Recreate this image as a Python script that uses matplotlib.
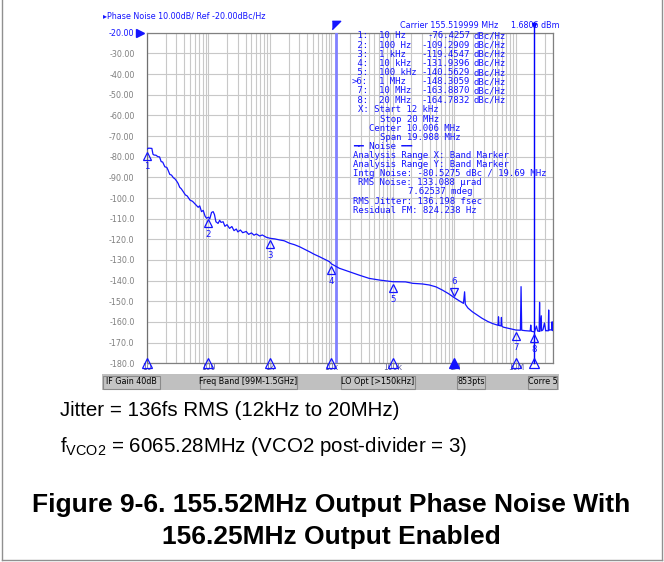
import matplotlib
matplotlib.use("Agg")
import matplotlib.pyplot as plt
from matplotlib.patches import Rectangle
from matplotlib.lines import Line2D
from matplotlib.transforms import offset_copy

# ---------------- data ----------------
freq_hz = [10, 10.5, 11, 12, 12.5, 13, 14, 15, 16, 17, 18, 19.5, 21, 22, 23.5, 25, 27, 28, 30, 32,
           34, 36, 39, 42, 45, 50, 55, 60, 63, 68, 72, 77, 82, 88, 93, 100, 105, 112, 119, 125,
           132, 143, 152, 160, 173, 185, 200, 220, 240, 260, 283, 300, 330, 360, 410, 450, 500, 550,
           600, 680, 750, 870, 1000, 1200, 1430, 1700, 2080, 2500, 3030, 3600, 4380, 5200, 6360,
           7700, 9250, 10000, 13400, 19500, 28000, 41000, 60000, 98000, 160000, 210000, 300000,
           390000, 500000, 630000, 800000, 1000000, 1200000, 1400000, 1460000, 1500000, 1650000,
           1940000, 2300000, 2800000, 3500000, 4200000, 5100000, 5200000, 5300000, 5700000, 5800000,
           5900000, 6200000, 7600000, 8500000, 10000000, 11800000, 12100000, 12400000, 14000000,
           15500000, 17000000, 17400000, 17800000, 20000000, 21500000, 22500000, 23800000, 24200000,
           24600000, 25800000, 26100000, 27500000, 29000000, 30500000, 31500000, 33500000, 34000000,
           34500000, 36000000, 38300000, 38700000, 39200000, 40000000]
noise_dbc = [-76.4, -75.9, -75.9, -76.0, -78.8, -79.2, -79.3, -80.0, -80.1, -82.4, -82.6, -84.9, -85.2,
             -86.5, -88.6, -88.9, -90.3, -90.5, -91.6, -92.9, -94.8, -95.5, -97.0, -98.5, -99.0,
             -101.0, -101.6, -102.8, -103.4, -104.5, -103.8, -106.6, -106.0, -108.8, -109.8, -109.3,
             -110.1, -107.0, -106.6, -108.0, -111.5, -112.3, -110.8, -111.8, -111.5, -113.7, -112.9,
             -114.7, -113.8, -115.8, -115.0, -116.4, -115.5, -116.8, -116.2, -117.6, -116.9, -118.0,
             -117.4, -118.4, -117.9, -119.0, -119.5, -119.8, -120.3, -120.7, -121.9, -122.6, -123.6,
             -124.7, -126.0, -127.2, -128.4, -129.6, -130.8, -131.9, -134.0, -135.7, -137.3, -138.9,
             -139.7, -140.5, -140.6, -141.3, -141.6, -142.1, -143.0, -144.5, -146.3, -148.3, -149.8,
             -151.0, -145.4, -151.4, -153.2, -155.0, -156.5, -158.2, -159.8, -160.8, -161.6, -157.5,
             -161.7, -161.9, -157.8, -162.0, -162.5, -163.1, -163.4, -163.9, -164.0, -142.9, -164.0,
             -164.2, -164.3, -164.4, -161.5, -164.5, -164.8, -162.0, -164.4, -164.5, -150.5, -164.5,
             -157.0, -164.3, -163.8, -160.5, -164.3, -164.2, -164.3, -154.2, -164.0, -163.8, -163.9,
             -159.9, -164.0, -164.2]

marker_freqs = [10, 100, 1e3, 1e4, 1e5, 1e6, 1e7, 2e7]
marker_vals = [-76.4257, -109.2909, -119.4547, -131.9396, -140.5629, -148.3059, -163.8870, -164.7832]
marker_freq_txt = ["10 Hz", "100 Hz", "1 kHz", "10 kHz", "100 kHz", "1 MHz", "10 MHz", "20 MHz"]
marker_val_txt = ["-76.4257", "-109.2909", "-119.4547", "-131.9396", "-140.5629", "-148.3059",
                  "-163.8870", "-164.7832"]

band_start_hz = 12e3
band_stop_hz = 20e6

y_ticks = [-20, -30, -40, -50, -60, -70, -80, -90, -100, -110, -120, -130, -140, -150, -160, -170, -180]
y_tick_labels = ["-20.00", "-30.00", "-40.00", "-50.00", "-60.00", "-70.00", "-80.00", "-90.00",
                 "-100.0", "-110.0", "-120.0", "-130.0", "-140.0", "-150.0", "-160.0", "-170.0", "-180.0"]
x_ticks = [10, 100, 1e3, 1e4, 1e5, 1e6, 1e7]
x_tick_labels = ["10", "100", "1k", "10k", "100k", "1M", "10M"]

info_lines = [
    ("X: Start 12 kHz", 358),
    ("Stop 20 MHz", 380),
    ("Center 10.006 MHz", 369),
    ("Span 19.988 MHz", 380),
    ("\u2501\u2501 Noise \u2501\u2501", 353),
    ("Analysis Range X: Band Marker", 353),
    ("Analysis Range Y: Band Marker", 353),
    ("Intg Noise: -80.5275 dBc / 19.69 MHz", 353),
    ("RMS Noise: 133.088 \u00b5rad", 358),
    ("7.62537 mdeg", 408),
    ("RMS Jitter: 136.198 fsec", 353),
    ("Residual FM: 824.238 Hz", 353),
]

status_items = [("IF Gain 40dB", 103, 160), ("Freq Band [99M-1.5GHz]", 200, 297),
                ("LO Opt [>150kHz]", 341, 415), ("853pts", 457, 485), ("Corre 5", 528, 557)]

# ---------------- figure ----------------
W, H = 664, 562
fig = plt.figure(figsize=(W / 100, H / 100), dpi=100)
fig.patch.set_facecolor("white")


def fx(x):
    return x / W


def fy(y):
    return 1 - y / H


BLUE = "#1414ff"
GRID = "#c8c8c8"
GREY = "#808080"

ax = fig.add_axes([fx(147), fy(363.3), (553 - 147) / W, (363.3 - 32.7) / H])
ax.set_xscale("log")
ax.set_xlim(10, 40e6)
ax.set_ylim(-180, -20)
ax.set_facecolor("white")
for s in ax.spines.values():
    s.set_color(GREY)
    s.set_linewidth(0.9)
ax.spines["left"].set_color("#707070")

ax.set_yticks(y_ticks)
ax.set_yticklabels(y_tick_labels, fontsize=5.8, color=GREY)
ax.get_yticklabels()[0].set_color(BLUE)
ax.set_xticks(x_ticks)
ax.set_xticklabels(x_tick_labels, fontsize=5.5, color="#5a5a9a")
ax.xaxis.set_minor_formatter(matplotlib.ticker.NullFormatter())
ax.tick_params(axis="y", length=0, pad=9)
ax.tick_params(axis="x", which="both", length=0, pad=0)
ax.grid(True, which="both", axis="x", color=GRID, lw=0.8)
ax.grid(True, which="major", axis="y", color=GRID, lw=0.8)
ax.set_axisbelow(True)

# band marker lines
ax.plot([band_start_hz, band_start_hz], [-180, -20], color="#8080ff", lw=2.0, zorder=3)
ax.plot([band_start_hz], [-16.3], marker=[(-1, 1), (1, 1), (-1, -1)], color=BLUE, ms=6,
        clip_on=False, zorder=4)
ax.plot([band_stop_hz, band_stop_hz], [-180, -15], color="#0000ff", lw=1.0, clip_on=False, zorder=3)
ax.plot([band_stop_hz], [-16.5], marker="v", color="#0000ff", ms=3, clip_on=False, zorder=4)

# trace
ax.plot(freq_hz, noise_dbc, color=BLUE, lw=0.9, zorder=5)

# reference triangle
tr_left = offset_copy(ax.transData, fig=fig, x=-5, y=0, units="points")
ax.plot([10], [-20], marker=">", color=BLUE, ms=6, transform=tr_left, clip_on=False, zorder=6)

# markers on trace
tr_down = offset_copy(ax.transData, fig=fig, x=0, y=-4.5, units="points")
tr_up = offset_copy(ax.transData, fig=fig, x=0, y=4.5, units="points")
for i, (f, v) in enumerate(zip(marker_freqs, marker_vals)):
    if i == 5:
        ax.plot([f], [v], marker="v", mfc="none", mec=BLUE, ms=6, mew=0.9,
                transform=tr_up, clip_on=False, zorder=6)
        ax.annotate(str(i + 1), (f, v), xytext=(0, 12), textcoords="offset points",
                    ha="center", va="center", color=BLUE, fontsize=6.2)
    else:
        ax.plot([f], [v], marker="^", mfc="none", mec=BLUE, ms=6, mew=0.9,
                transform=tr_down, clip_on=False, zorder=6)
        ax.annotate(str(i + 1), (f, v), xytext=(0, -12.5), textcoords="offset points",
                    ha="center", va="center", color=BLUE, fontsize=6.2)

# bottom marker triangles
for i, f in enumerate(marker_freqs):
    ax.plot([f], [-180], marker="^", mfc=(BLUE if i == 5 else "none"), mec=BLUE, ms=7, mew=0.9,
            clip_on=False, zorder=6)

# ---------------- texts inside chart ----------------
fig.text(fx(103), fy(16), "\u25b8Phase Noise 10.00dB/ Ref -20.00dBc/Hz", fontsize=5.8,
         color=BLUE, va="center", ha="left")
fig.text(fx(400), fy(25), "Carrier 155.519999 MHz", fontsize=5.8, color=BLUE, va="center")
fig.text(fx(511), fy(25), "1.6806 dBm", fontsize=5.8, color=BLUE, va="center")

mono = "DejaVu Sans Mono"
FS = 6.5
for i in range(8):
    y = 36 + i * 9.15
    lab = (">" if i == 5 else " ") + f"{i + 1}:"
    fig.text(fx(352), fy(y), lab, fontsize=FS, family=mono, color=BLUE, va="center")
    fig.text(fx(379), fy(y), marker_freq_txt[i], fontsize=FS, family=mono, color=BLUE, va="center")
    fig.text(fx(470), fy(y), marker_val_txt[i], fontsize=FS, family=mono, color=BLUE,
             va="center", ha="right")
    fig.text(fx(473), fy(y), "dBc/Hz", fontsize=FS, family=mono, color=BLUE, va="center")
for j, (txt, x0) in enumerate(info_lines):
    y = 110 + j * 9.1
    fig.text(fx(x0), fy(y), txt, fontsize=FS, family=mono, color=BLUE, va="center")

# status bar
fig.patches.append(Rectangle((fx(102), fy(390)), (559 - 102) / W, 16 / H, transform=fig.transFigure,
                             facecolor="#c0c0c0", edgecolor="none", zorder=0))
for txt, x0, x1 in status_items:
    fig.patches.append(Rectangle((fx(x0), fy(388.5)), (x1 - x0) / W, 13 / H, transform=fig.transFigure,
                                 facecolor="#c4c4c4", edgecolor="#8a8a8a", lw=0.8, zorder=1))
    fig.text(fx((x0 + x1) / 2), fy(382), txt, fontsize=5.8, color="black", ha="center", va="center")

# ---------------- captions ----------------
sans = "Liberation Sans"
fig.text(fx(60), fy(411), "Jitter = 136fs RMS (12kHz to 20MHz)", fontsize=14.8, family=sans,
         ha="left", va="center")
fig.text(fx(60), fy(446), r"f$_{\mathregular{VCO2}}$ = 6065.28MHz (VCO2 post-divider = 3)",
         fontsize=14.8, family=sans, ha="left", va="center")
fig.text(fx(331), fy(505), "Figure 9-6. 155.52MHz Output Phase Noise With", fontsize=19,
         family=sans, weight="bold", ha="center", va="center")
fig.text(fx(331), fy(537), "156.25MHz Output Enabled", fontsize=19, family=sans, weight="bold",
         ha="center", va="center")

# outer frame (left, right, bottom)
for xs, ys in [([1.5, 1.5], [0, 559.5]), ([661.5, 661.5], [0, 559.5]), ([1.5, 661.5], [559.5, 559.5])]:
    fig.add_artist(Line2D([fx(v) for v in xs], [fy(v) for v in ys], color="#909090", lw=1.0))

fig.savefig("out.png", dpi=100)
